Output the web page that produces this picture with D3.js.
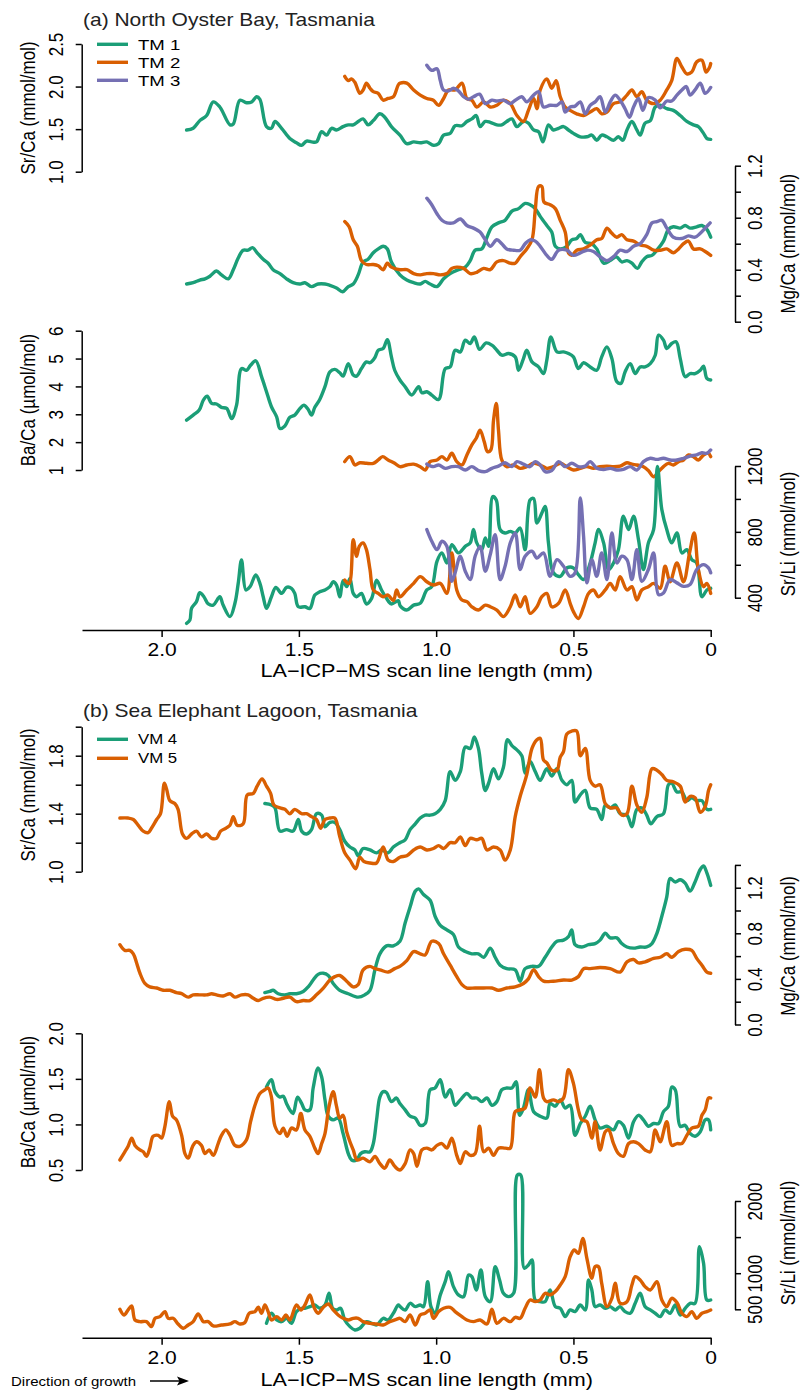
<!DOCTYPE html>
<html>
<head>
<meta charset="utf-8">
<script src="https://cdn.jsdelivr.net/npm/d3@7"></script>
<style>
  body { margin: 0; background: #fff; }
  text { font-family: "Liberation Sans", Arial, sans-serif; fill: #000; }
</style>
</head>
<body>
<div id="chart"></div>
<script>
// distances are scan line length in mm, values as on each axis

// ---- (a) North Oyster Bay ----
const tm1SrCa = [[1.909,1.49],[1.885,1.51],[1.861,1.60],[1.836,1.66],[1.812,1.82],[1.788,1.76],[1.751,1.55],[1.739,1.56],[1.715,1.84],[1.691,1.81],[1.672,1.82],[1.654,1.88],[1.642,1.85],[1.618,1.53],[1.600,1.51],[1.587,1.59],[1.563,1.51],[1.533,1.39],[1.509,1.34],[1.490,1.31],[1.472,1.36],[1.454,1.35],[1.436,1.35],[1.417,1.47],[1.399,1.43],[1.381,1.51],[1.363,1.49],[1.339,1.53],[1.320,1.55],[1.302,1.55],[1.284,1.59],[1.266,1.62],[1.248,1.55],[1.229,1.60],[1.205,1.68],[1.187,1.64],[1.163,1.53],[1.132,1.43],[1.107,1.33],[1.082,1.35],[1.058,1.34],[1.034,1.35],[1.010,1.31],[0.991,1.33],[0.973,1.43],[0.949,1.45],[0.931,1.54],[0.906,1.54],[0.888,1.59],[0.870,1.62],[0.854,1.66],[0.840,1.53],[0.821,1.59],[0.803,1.58],[0.779,1.55],[0.761,1.55],[0.743,1.59],[0.724,1.62],[0.706,1.53],[0.682,1.59],[0.664,1.57],[0.645,1.49],[0.627,1.47],[0.611,1.35],[0.591,1.55],[0.573,1.49],[0.554,1.51],[0.536,1.53],[0.518,1.49],[0.500,1.45],[0.475,1.41],[0.451,1.41],[0.433,1.43],[0.415,1.37],[0.397,1.43],[0.378,1.41],[0.354,1.37],[0.336,1.41],[0.320,1.37],[0.305,1.49],[0.287,1.59],[0.269,1.49],[0.257,1.43],[0.239,1.57],[0.220,1.60],[0.202,1.76],[0.184,1.78],[0.160,1.74],[0.136,1.72],[0.111,1.66],[0.087,1.59],[0.063,1.55],[0.045,1.53],[0.026,1.45],[0.014,1.39],[0,1.38]]
const tm2SrCa = [[1.333,2.12],[1.320,2.07],[1.308,2.09],[1.296,2.05],[1.278,1.92],[1.266,1.96],[1.254,2.04],[1.241,1.98],[1.229,1.94],[1.211,1.92],[1.193,1.84],[1.175,1.86],[1.156,1.88],[1.138,2.02],[1.131,2.04],[1.107,2.04],[1.082,1.96],[1.058,1.90],[1.034,1.86],[1.010,1.84],[0.991,1.78],[0.973,1.86],[0.955,1.96],[0.931,1.96],[0.906,2.04],[0.888,1.86],[0.870,1.84],[0.852,1.76],[0.827,1.82],[0.803,1.76],[0.779,1.78],[0.755,1.84],[0.730,1.80],[0.706,1.66],[0.682,1.59],[0.664,1.72],[0.645,1.86],[0.633,1.74],[0.621,1.96],[0.597,2.09],[0.579,1.98],[0.563,2.07],[0.548,1.88],[0.530,1.76],[0.512,1.72],[0.488,1.68],[0.463,1.66],[0.439,1.70],[0.415,1.74],[0.397,1.68],[0.378,1.70],[0.354,1.80],[0.330,1.82],[0.305,1.90],[0.287,1.96],[0.269,1.88],[0.251,1.94],[0.233,1.84],[0.208,1.80],[0.184,1.84],[0.160,1.96],[0.142,2.07],[0.123,2.33],[0.105,2.23],[0.087,2.15],[0.069,2.17],[0.051,2.29],[0.032,2.31],[0.017,2.17],[0.005,2.22],[0,2.27]]
const tm3SrCa = [[1.034,2.25],[1.016,2.19],[0.997,2.21],[0.985,2.07],[0.973,1.96],[0.955,1.95],[0.937,1.98],[0.919,1.95],[0.900,1.88],[0.882,1.85],[0.864,1.88],[0.842,1.91],[0.821,1.80],[0.797,1.84],[0.779,1.83],[0.755,1.84],[0.730,1.80],[0.712,1.84],[0.688,1.88],[0.670,1.82],[0.645,1.90],[0.627,1.94],[0.609,1.76],[0.585,1.78],[0.560,1.78],[0.542,1.82],[0.530,1.70],[0.512,1.76],[0.494,1.77],[0.475,1.82],[0.457,1.68],[0.439,1.78],[0.421,1.82],[0.403,1.88],[0.384,1.70],[0.366,1.82],[0.348,1.90],[0.330,1.84],[0.312,1.74],[0.296,1.64],[0.281,1.76],[0.263,1.86],[0.247,1.72],[0.227,1.87],[0.202,1.84],[0.184,1.75],[0.160,1.83],[0.142,1.83],[0.123,1.90],[0.105,1.96],[0.089,2.00],[0.075,1.90],[0.057,1.96],[0.038,2.04],[0.020,1.92],[0,1.99]]

const tm1MgCa = [[1.909,0.29],[1.885,0.30],[1.861,0.32],[1.842,0.33],[1.824,0.35],[1.800,0.39],[1.782,0.36],[1.757,0.33],[1.739,0.40],[1.721,0.49],[1.703,0.55],[1.685,0.55],[1.669,0.57],[1.652,0.53],[1.630,0.48],[1.612,0.45],[1.594,0.40],[1.569,0.37],[1.545,0.33],[1.521,0.30],[1.496,0.29],[1.478,0.30],[1.454,0.27],[1.430,0.29],[1.405,0.29],[1.387,0.28],[1.363,0.26],[1.341,0.23],[1.320,0.27],[1.302,0.29],[1.284,0.36],[1.266,0.46],[1.248,0.48],[1.229,0.53],[1.211,0.56],[1.193,0.58],[1.178,0.56],[1.163,0.46],[1.132,0.36],[1.107,0.32],[1.082,0.30],[1.058,0.29],[1.040,0.31],[1.022,0.29],[0.997,0.27],[0.973,0.33],[0.949,0.37],[0.919,0.40],[0.894,0.42],[0.876,0.47],[0.858,0.55],[0.834,0.56],[0.815,0.65],[0.797,0.73],[0.773,0.76],[0.749,0.78],[0.724,0.85],[0.700,0.87],[0.676,0.91],[0.658,0.90],[0.639,0.87],[0.621,0.81],[0.597,0.74],[0.579,0.69],[0.566,0.58],[0.548,0.56],[0.524,0.58],[0.506,0.63],[0.488,0.64],[0.475,0.67],[0.457,0.61],[0.433,0.60],[0.415,0.56],[0.390,0.45],[0.366,0.47],[0.344,0.50],[0.324,0.46],[0.305,0.47],[0.287,0.45],[0.267,0.41],[0.251,0.46],[0.233,0.50],[0.214,0.51],[0.196,0.55],[0.172,0.62],[0.154,0.71],[0.136,0.73],[0.111,0.72],[0.093,0.74],[0.075,0.72],[0.051,0.73],[0.032,0.74],[0.014,0.71],[0,0.65]]
const tm2MgCa = [[1.333,0.77],[1.317,0.73],[1.302,0.63],[1.287,0.58],[1.272,0.47],[1.254,0.44],[1.229,0.44],[1.211,0.43],[1.193,0.40],[1.178,0.45],[1.163,0.42],[1.132,0.40],[1.107,0.40],[1.082,0.37],[1.058,0.36],[1.034,0.37],[1.010,0.37],[0.985,0.36],[0.961,0.37],[0.943,0.41],[0.925,0.42],[0.900,0.41],[0.876,0.37],[0.852,0.38],[0.827,0.41],[0.803,0.40],[0.779,0.46],[0.755,0.47],[0.730,0.45],[0.712,0.45],[0.694,0.50],[0.670,0.56],[0.651,0.63],[0.639,0.86],[0.627,1.04],[0.615,1.04],[0.607,0.92],[0.585,0.90],[0.566,0.87],[0.548,0.78],[0.530,0.69],[0.518,0.53],[0.506,0.51],[0.488,0.55],[0.463,0.56],[0.439,0.59],[0.415,0.63],[0.397,0.64],[0.378,0.72],[0.360,0.68],[0.342,0.65],[0.324,0.67],[0.305,0.63],[0.281,0.62],[0.257,0.59],[0.233,0.58],[0.208,0.55],[0.184,0.55],[0.160,0.56],[0.136,0.53],[0.117,0.56],[0.099,0.60],[0.081,0.62],[0.063,0.56],[0.038,0.56],[0.020,0.54],[0,0.51]]
const tm3MgCa = [[1.034,0.95],[1.016,0.90],[0.997,0.83],[0.979,0.78],[0.961,0.76],[0.937,0.76],[0.912,0.79],[0.888,0.74],[0.864,0.72],[0.840,0.69],[0.821,0.63],[0.803,0.58],[0.779,0.63],[0.761,0.60],[0.743,0.56],[0.718,0.55],[0.694,0.55],[0.676,0.60],[0.658,0.63],[0.639,0.62],[0.621,0.58],[0.597,0.51],[0.579,0.48],[0.554,0.55],[0.524,0.55],[0.500,0.51],[0.475,0.53],[0.451,0.55],[0.427,0.54],[0.403,0.50],[0.378,0.47],[0.354,0.50],[0.330,0.55],[0.305,0.54],[0.281,0.58],[0.257,0.60],[0.233,0.67],[0.214,0.76],[0.196,0.77],[0.178,0.78],[0.160,0.72],[0.136,0.65],[0.105,0.64],[0.081,0.66],[0.057,0.65],[0.038,0.68],[0.020,0.72],[0.002,0.76]]

const tm1BaCa = [[1.909,2.79],[1.885,2.97],[1.863,3.15],[1.848,3.51],[1.834,3.65],[1.818,3.39],[1.800,3.37],[1.782,3.25],[1.763,3.21],[1.745,2.85],[1.727,3.33],[1.709,4.64],[1.691,4.58],[1.676,4.76],[1.657,4.92],[1.636,4.35],[1.618,3.81],[1.600,3.27],[1.581,2.91],[1.569,2.49],[1.551,2.58],[1.533,2.89],[1.515,2.97],[1.496,3.21],[1.482,3.33],[1.466,3.17],[1.454,2.97],[1.442,3.25],[1.424,3.53],[1.405,3.99],[1.387,4.52],[1.369,4.61],[1.351,4.49],[1.339,4.37],[1.320,4.82],[1.302,4.41],[1.290,4.37],[1.272,4.64],[1.254,4.88],[1.241,4.85],[1.223,5.04],[1.211,5.30],[1.193,5.36],[1.178,5.68],[1.163,5.06],[1.151,4.58],[1.132,4.23],[1.113,3.99],[1.089,3.69],[1.064,3.99],[1.052,3.77],[1.034,3.81],[1.016,3.69],[0.991,3.53],[0.967,4.64],[0.949,4.70],[0.931,5.30],[0.912,5.24],[0.894,5.66],[0.876,5.54],[0.861,5.78],[0.842,5.33],[0.818,5.56],[0.797,5.48],[0.779,5.30],[0.761,5.12],[0.736,5.18],[0.712,5.06],[0.700,4.58],[0.682,5.00],[0.670,5.30],[0.651,4.88],[0.627,4.70],[0.609,4.46],[0.597,4.94],[0.582,5.78],[0.560,5.24],[0.536,5.24],[0.518,5.18],[0.500,5.06],[0.482,4.64],[0.463,4.85],[0.439,4.70],[0.415,4.58],[0.397,5.06],[0.378,5.42],[0.360,5.00],[0.342,4.17],[0.327,4.11],[0.312,4.52],[0.293,4.82],[0.275,4.46],[0.257,4.70],[0.239,4.70],[0.220,4.82],[0.202,5.12],[0.190,5.84],[0.172,5.66],[0.160,5.36],[0.142,5.54],[0.126,5.60],[0.111,5.00],[0.093,4.35],[0.075,4.46],[0.057,4.46],[0.038,4.58],[0.026,4.73],[0.014,4.29],[0,4.23]]
const tm2BaCa = [[1.333,1.30],[1.314,1.48],[1.296,1.18],[1.278,1.26],[1.254,1.24],[1.229,1.24],[1.211,1.36],[1.195,1.48],[1.175,1.36],[1.151,1.24],[1.132,1.12],[1.107,1.18],[1.082,1.21],[1.058,1.12],[1.040,1.00],[1.022,1.30],[0.997,1.36],[0.979,1.48],[0.961,1.36],[0.943,1.60],[0.925,1.30],[0.906,1.18],[0.888,1.54],[0.870,1.90],[0.854,2.14],[0.840,2.43],[0.825,2.02],[0.813,1.66],[0.801,1.72],[0.791,2.79],[0.781,3.39],[0.773,2.43],[0.761,1.36],[0.743,1.12],[0.718,1.18],[0.694,1.06],[0.670,1.12],[0.645,1.24],[0.621,1.18],[0.597,1.06],[0.573,1.12],[0.548,1.24],[0.524,1.12],[0.500,1.00],[0.475,1.06],[0.451,1.12],[0.427,1.06],[0.403,1.12],[0.378,1.14],[0.354,1.12],[0.330,1.14],[0.305,1.26],[0.287,1.21],[0.269,1.18],[0.245,1.12],[0.227,0.98],[0.208,0.76],[0.190,0.94],[0.172,1.12],[0.154,1.24],[0.136,1.18],[0.117,1.30],[0.099,1.36],[0.081,1.54],[0.063,1.48],[0.045,1.36],[0.026,1.54],[0.008,1.60],[0,1.48]]
const tm3BaCa = [[1.034,1.21],[1.010,1.12],[0.991,1.18],[0.967,1.06],[0.943,1.12],[0.919,1.12],[0.894,1.00],[0.870,1.12],[0.846,0.98],[0.821,0.94],[0.797,1.06],[0.773,1.14],[0.749,1.26],[0.724,1.12],[0.706,1.30],[0.682,1.21],[0.658,1.12],[0.639,1.30],[0.621,1.18],[0.603,0.94],[0.579,0.98],[0.554,1.30],[0.530,1.12],[0.506,1.24],[0.482,1.12],[0.457,1.14],[0.439,1.30],[0.415,1.06],[0.390,1.02],[0.366,1.06],[0.342,1.00],[0.318,1.02],[0.293,1.12],[0.269,1.00],[0.245,1.30],[0.220,1.42],[0.196,1.38],[0.172,1.42],[0.148,1.36],[0.123,1.36],[0.099,1.42],[0.075,1.50],[0.051,1.54],[0.032,1.62],[0.014,1.60],[0,1.72]]

const tm1SrLi = [[1.909,244],[1.897,264],[1.891,335],[1.873,376],[1.861,430],[1.846,406],[1.830,362],[1.812,355],[1.788,406],[1.776,355],[1.751,285],[1.733,366],[1.721,487],[1.709,629],[1.693,447],[1.678,467],[1.657,538],[1.642,487],[1.630,406],[1.618,335],[1.600,406],[1.584,463],[1.563,426],[1.545,463],[1.527,457],[1.515,426],[1.502,345],[1.478,345],[1.460,335],[1.442,416],[1.424,436],[1.405,447],[1.387,467],[1.375,497],[1.363,477],[1.351,406],[1.339,503],[1.326,467],[1.314,517],[1.302,426],[1.290,406],[1.272,426],[1.254,362],[1.235,396],[1.217,507],[1.199,447],[1.181,396],[1.163,362],[1.138,382],[1.131,350],[1.107,325],[1.082,355],[1.058,366],[1.034,447],[1.016,467],[0.997,621],[0.979,672],[0.961,611],[0.943,722],[0.919,672],[0.894,712],[0.876,733],[0.864,814],[0.852,733],[0.834,692],[0.821,763],[0.809,712],[0.794,1014],[0.781,993],[0.767,814],[0.749,793],[0.730,803],[0.712,793],[0.694,823],[0.676,692],[0.658,993],[0.645,1003],[0.633,854],[0.615,915],[0.603,955],[0.591,733],[0.573,551],[0.548,530],[0.524,581],[0.500,581],[0.482,540],[0.463,510],[0.439,611],[0.421,733],[0.409,814],[0.390,733],[0.372,571],[0.354,611],[0.336,692],[0.318,895],[0.299,814],[0.281,895],[0.263,753],[0.245,571],[0.227,733],[0.208,814],[0.194,1198],[0.178,935],[0.160,814],[0.142,733],[0.123,793],[0.105,672],[0.087,692],[0.069,631],[0.051,611],[0.032,406],[0.014,447],[0,457]]
const tm2SrLi = [[1.333,507],[1.317,487],[1.302,753],[1.290,652],[1.280,712],[1.266,733],[1.254,692],[1.241,571],[1.229,447],[1.211,426],[1.193,406],[1.175,416],[1.156,382],[1.144,447],[1.132,406],[1.107,447],[1.082,487],[1.058,528],[1.034,497],[1.010,477],[0.985,487],[0.961,426],[0.943,672],[0.925,447],[0.906,386],[0.888,376],[0.870,345],[0.846,325],[0.821,355],[0.803,345],[0.779,325],[0.755,285],[0.730,345],[0.712,416],[0.694,345],[0.676,406],[0.658,305],[0.633,345],[0.615,406],[0.597,426],[0.579,345],[0.554,366],[0.530,447],[0.512,366],[0.500,315],[0.482,274],[0.463,345],[0.445,426],[0.427,447],[0.409,406],[0.384,447],[0.366,487],[0.348,447],[0.330,528],[0.305,447],[0.287,467],[0.269,386],[0.251,447],[0.227,467],[0.208,487],[0.184,457],[0.166,591],[0.148,497],[0.123,611],[0.099,497],[0.077,672],[0.060,793],[0.045,571],[0.026,467],[0.014,487],[0,426]]
const tm3SrLi = [[1.034,814],[1.016,743],[0.997,692],[0.979,743],[0.961,712],[0.943,500],[0.931,551],[0.912,652],[0.894,561],[0.876,510],[0.858,652],[0.840,712],[0.821,561],[0.803,662],[0.785,783],[0.767,510],[0.749,591],[0.730,733],[0.712,793],[0.694,571],[0.676,652],[0.651,682],[0.633,641],[0.609,672],[0.585,530],[0.560,631],[0.536,591],[0.512,530],[0.494,551],[0.475,1006],[0.463,773],[0.451,490],[0.433,631],[0.415,530],[0.397,672],[0.378,510],[0.360,793],[0.342,611],[0.324,652],[0.305,631],[0.287,510],[0.269,692],[0.251,500],[0.227,571],[0.208,672],[0.190,419],[0.172,429],[0.148,510],[0.123,490],[0.099,469],[0.075,480],[0.051,571],[0.026,601],[0.008,581],[0,551]]

// ---- (b) Sea Elephant Lagoon ----
const vm4SrCa = [[1.624,1.47],[1.600,1.46],[1.587,1.44],[1.569,1.28],[1.545,1.29],[1.521,1.28],[1.502,1.36],[1.490,1.28],[1.472,1.26],[1.454,1.29],[1.436,1.40],[1.417,1.39],[1.405,1.31],[1.387,1.34],[1.369,1.34],[1.351,1.29],[1.333,1.21],[1.314,1.17],[1.296,1.15],[1.284,1.11],[1.266,1.16],[1.241,1.15],[1.217,1.13],[1.199,1.15],[1.175,1.13],[1.156,1.17],[1.132,1.20],[1.113,1.22],[1.095,1.29],[1.076,1.33],[1.058,1.37],[1.040,1.39],[1.022,1.39],[1.004,1.40],[0.985,1.43],[0.967,1.49],[0.949,1.69],[0.931,1.63],[0.912,1.69],[0.894,1.86],[0.876,1.85],[0.861,1.93],[0.846,1.85],[0.834,1.68],[0.821,1.56],[0.809,1.61],[0.791,1.71],[0.773,1.64],[0.755,1.72],[0.740,1.91],[0.724,1.87],[0.706,1.84],[0.688,1.80],[0.676,1.68],[0.658,1.76],[0.639,1.69],[0.621,1.63],[0.597,1.71],[0.579,1.66],[0.560,1.71],[0.542,1.63],[0.524,1.60],[0.506,1.63],[0.494,1.48],[0.475,1.53],[0.457,1.56],[0.439,1.44],[0.415,1.43],[0.397,1.36],[0.384,1.46],[0.366,1.44],[0.348,1.46],[0.330,1.40],[0.305,1.39],[0.287,1.31],[0.269,1.43],[0.251,1.44],[0.233,1.39],[0.218,1.33],[0.196,1.38],[0.172,1.40],[0.154,1.60],[0.142,1.61],[0.123,1.55],[0.105,1.55],[0.087,1.49],[0.069,1.51],[0.051,1.49],[0.032,1.49],[0.014,1.43],[0,1.43]]
const vm5SrCa = [[2.152,1.37],[2.122,1.37],[2.103,1.36],[2.085,1.32],[2.067,1.28],[2.049,1.27],[2.037,1.30],[2.018,1.36],[2.004,1.40],[1.990,1.61],[1.982,1.57],[1.970,1.49],[1.952,1.47],[1.940,1.43],[1.924,1.26],[1.909,1.23],[1.891,1.26],[1.873,1.28],[1.855,1.24],[1.836,1.26],[1.818,1.23],[1.800,1.23],[1.785,1.28],[1.766,1.30],[1.751,1.32],[1.739,1.38],[1.725,1.32],[1.703,1.33],[1.688,1.53],[1.666,1.54],[1.652,1.59],[1.634,1.64],[1.618,1.59],[1.603,1.54],[1.591,1.46],[1.569,1.44],[1.551,1.43],[1.533,1.40],[1.515,1.43],[1.490,1.40],[1.472,1.40],[1.454,1.38],[1.436,1.36],[1.421,1.30],[1.405,1.36],[1.387,1.37],[1.369,1.37],[1.351,1.24],[1.333,1.13],[1.314,1.08],[1.293,1.02],[1.278,1.10],[1.263,1.07],[1.241,1.06],[1.217,1.06],[1.193,1.17],[1.175,1.08],[1.156,1.07],[1.132,1.10],[1.107,1.11],[1.082,1.15],[1.058,1.17],[1.034,1.15],[1.010,1.16],[0.991,1.18],[0.973,1.16],[0.949,1.20],[0.931,1.20],[0.912,1.24],[0.894,1.18],[0.876,1.23],[0.852,1.22],[0.834,1.23],[0.815,1.15],[0.791,1.17],[0.767,1.15],[0.749,1.08],[0.730,1.15],[0.712,1.38],[0.694,1.52],[0.670,1.67],[0.651,1.85],[0.633,1.91],[0.621,1.92],[0.609,1.77],[0.597,1.75],[0.579,1.70],[0.560,1.70],[0.548,1.79],[0.536,1.83],[0.524,1.95],[0.506,1.97],[0.488,1.97],[0.475,1.80],[0.457,1.85],[0.439,1.63],[0.421,1.59],[0.403,1.60],[0.384,1.47],[0.366,1.44],[0.342,1.44],[0.324,1.39],[0.305,1.40],[0.287,1.59],[0.269,1.46],[0.251,1.41],[0.233,1.51],[0.214,1.71],[0.196,1.70],[0.178,1.67],[0.160,1.63],[0.136,1.62],[0.111,1.59],[0.093,1.48],[0.075,1.52],[0.057,1.51],[0.038,1.41],[0.020,1.45],[0.008,1.56],[0,1.60]]

const vm4MgCa = [[1.624,0.28],[1.606,0.29],[1.594,0.30],[1.575,0.27],[1.551,0.26],[1.533,0.27],[1.509,0.27],[1.484,0.29],[1.466,0.33],[1.448,0.39],[1.430,0.44],[1.411,0.45],[1.393,0.43],[1.375,0.36],[1.351,0.30],[1.320,0.27],[1.284,0.24],[1.260,0.26],[1.241,0.30],[1.223,0.48],[1.205,0.62],[1.181,0.69],[1.156,0.69],[1.132,0.73],[1.113,0.89],[1.095,1.03],[1.076,1.17],[1.064,1.19],[1.046,1.14],[1.022,1.09],[1.004,0.95],[0.985,0.87],[0.961,0.83],[0.937,0.79],[0.919,0.68],[0.894,0.64],[0.870,0.62],[0.846,0.62],[0.827,0.59],[0.803,0.67],[0.785,0.59],[0.767,0.52],[0.743,0.49],[0.712,0.48],[0.694,0.38],[0.676,0.49],[0.651,0.51],[0.627,0.51],[0.603,0.59],[0.579,0.68],[0.560,0.73],[0.536,0.74],[0.518,0.77],[0.506,0.83],[0.494,0.70],[0.469,0.68],[0.445,0.70],[0.421,0.71],[0.403,0.74],[0.384,0.80],[0.366,0.76],[0.342,0.76],[0.324,0.71],[0.305,0.68],[0.281,0.67],[0.257,0.68],[0.233,0.68],[0.214,0.71],[0.196,0.80],[0.178,0.95],[0.160,1.12],[0.148,1.28],[0.129,1.25],[0.111,1.27],[0.093,1.24],[0.075,1.17],[0.057,1.25],[0.038,1.36],[0.026,1.39],[0.014,1.33],[0,1.22]]
const vm5MgCa = [[2.152,0.70],[2.134,0.65],[2.116,0.65],[2.103,0.62],[2.091,0.54],[2.079,0.45],[2.061,0.36],[2.043,0.33],[2.018,0.32],[1.994,0.30],[1.970,0.30],[1.946,0.28],[1.927,0.27],[1.903,0.24],[1.885,0.26],[1.861,0.26],[1.836,0.26],[1.818,0.27],[1.800,0.26],[1.776,0.25],[1.751,0.27],[1.733,0.24],[1.709,0.26],[1.685,0.26],[1.666,0.23],[1.648,0.21],[1.630,0.23],[1.606,0.24],[1.581,0.22],[1.557,0.23],[1.533,0.24],[1.509,0.20],[1.484,0.21],[1.460,0.21],[1.436,0.26],[1.411,0.32],[1.387,0.39],[1.369,0.42],[1.351,0.43],[1.326,0.38],[1.302,0.33],[1.284,0.35],[1.266,0.48],[1.241,0.51],[1.223,0.49],[1.205,0.48],[1.175,0.46],[1.151,0.49],[1.132,0.51],[1.107,0.56],[1.082,0.64],[1.058,0.62],[1.040,0.61],[1.016,0.73],[0.991,0.71],[0.973,0.62],[0.949,0.52],[0.925,0.42],[0.906,0.35],[0.888,0.32],[0.858,0.32],[0.827,0.32],[0.797,0.32],[0.773,0.30],[0.743,0.32],[0.712,0.33],[0.682,0.36],[0.664,0.40],[0.645,0.48],[0.627,0.42],[0.609,0.38],[0.573,0.38],[0.536,0.39],[0.506,0.39],[0.482,0.42],[0.463,0.49],[0.439,0.49],[0.403,0.50],[0.366,0.49],[0.330,0.46],[0.305,0.55],[0.281,0.57],[0.263,0.54],[0.239,0.55],[0.208,0.58],[0.184,0.59],[0.160,0.62],[0.142,0.59],[0.117,0.64],[0.093,0.66],[0.069,0.65],[0.051,0.58],[0.032,0.52],[0.014,0.46],[0,0.45]]

const vm4BaCa = [[1.618,1.41],[1.600,1.49],[1.587,1.36],[1.569,1.30],[1.557,1.31],[1.545,1.23],[1.533,1.16],[1.521,1.12],[1.505,1.30],[1.490,1.23],[1.478,1.16],[1.460,1.16],[1.448,1.40],[1.430,1.62],[1.417,1.52],[1.405,1.27],[1.393,1.09],[1.375,1.05],[1.357,1.07],[1.339,0.90],[1.320,0.68],[1.308,0.61],[1.290,0.61],[1.275,0.68],[1.260,0.70],[1.241,0.70],[1.229,0.79],[1.217,1.05],[1.205,1.30],[1.193,1.36],[1.181,1.35],[1.163,1.25],[1.145,1.29],[1.132,1.23],[1.113,1.16],[1.095,1.09],[1.076,1.07],[1.058,0.99],[1.040,1.01],[1.022,1.38],[1.004,1.40],[0.985,1.49],[0.967,1.30],[0.949,1.38],[0.931,1.21],[0.912,1.27],[0.888,1.34],[0.870,1.29],[0.852,1.29],[0.834,1.25],[0.815,1.29],[0.797,1.21],[0.779,1.25],[0.761,1.38],[0.743,1.40],[0.724,1.40],[0.709,1.47],[0.696,1.10],[0.682,1.18],[0.664,1.38],[0.645,1.14],[0.621,1.09],[0.597,1.07],[0.585,1.23],[0.566,1.20],[0.548,1.27],[0.530,1.18],[0.512,1.21],[0.494,0.88],[0.475,1.01],[0.457,1.09],[0.439,1.20],[0.421,1.05],[0.403,0.96],[0.378,0.98],[0.354,0.94],[0.336,1.03],[0.318,0.99],[0.299,0.85],[0.281,1.03],[0.263,1.10],[0.245,1.05],[0.227,0.98],[0.208,1.01],[0.190,1.01],[0.172,1.14],[0.154,1.20],[0.142,1.41],[0.129,1.38],[0.111,0.98],[0.093,0.99],[0.075,0.90],[0.057,0.87],[0.038,0.92],[0.020,1.05],[0.008,1.05],[0,0.94]]
const vm5BaCa = [[2.152,0.61],[2.134,0.70],[2.122,0.76],[2.109,0.85],[2.097,0.77],[2.079,0.72],[2.067,0.70],[2.055,0.65],[2.043,0.74],[2.031,0.87],[2.012,0.88],[2.000,0.85],[1.988,0.98],[1.972,1.25],[1.960,1.09],[1.946,1.05],[1.927,0.88],[1.915,0.68],[1.903,0.63],[1.887,0.76],[1.873,0.81],[1.855,0.77],[1.842,0.68],[1.827,0.72],[1.812,0.66],[1.794,0.79],[1.782,0.88],[1.766,0.94],[1.751,0.88],[1.733,0.77],[1.715,0.76],[1.691,0.83],[1.676,1.03],[1.660,1.21],[1.642,1.34],[1.624,1.38],[1.612,1.40],[1.600,1.30],[1.587,0.98],[1.569,0.90],[1.557,0.96],[1.543,0.87],[1.527,0.96],[1.509,0.94],[1.493,1.12],[1.478,0.94],[1.460,0.87],[1.442,0.74],[1.430,0.68],[1.417,0.79],[1.405,0.90],[1.390,1.20],[1.375,1.36],[1.363,1.20],[1.351,1.07],[1.339,1.10],[1.326,0.92],[1.314,0.81],[1.302,0.72],[1.288,0.61],[1.266,0.63],[1.241,0.59],[1.223,0.65],[1.205,0.57],[1.187,0.52],[1.169,0.61],[1.151,0.54],[1.132,0.50],[1.113,0.57],[1.095,0.72],[1.082,0.68],[1.070,0.54],[1.052,0.72],[1.034,0.74],[1.016,0.72],[0.997,0.77],[0.979,0.79],[0.961,0.74],[0.943,0.85],[0.925,0.66],[0.912,0.57],[0.894,0.70],[0.876,0.66],[0.858,0.68],[0.842,0.98],[0.827,0.70],[0.809,0.74],[0.791,0.66],[0.773,0.74],[0.749,0.74],[0.730,0.74],[0.712,1.14],[0.694,1.16],[0.676,1.18],[0.658,1.40],[0.639,1.30],[0.624,1.60],[0.609,1.29],[0.597,1.25],[0.573,1.27],[0.554,1.25],[0.536,1.29],[0.518,1.60],[0.500,1.45],[0.482,1.16],[0.469,1.05],[0.451,1.03],[0.433,0.85],[0.421,1.03],[0.403,0.72],[0.384,0.92],[0.372,0.94],[0.354,0.79],[0.336,0.68],[0.318,0.65],[0.299,0.79],[0.281,0.81],[0.263,0.79],[0.239,0.72],[0.220,0.70],[0.202,0.94],[0.184,0.81],[0.160,1.03],[0.142,0.77],[0.123,0.79],[0.105,0.79],[0.087,0.88],[0.069,0.96],[0.045,0.98],[0.032,1.10],[0.020,1.16],[0.008,1.29],[0,1.29]]

const vm4SrLi = [[1.618,306],[1.600,445],[1.581,352],[1.563,329],[1.545,375],[1.527,306],[1.509,468],[1.490,514],[1.478,514],[1.460,537],[1.442,560],[1.424,514],[1.405,560],[1.390,722],[1.377,514],[1.363,491],[1.348,514],[1.333,352],[1.314,260],[1.296,214],[1.278,237],[1.254,329],[1.235,306],[1.217,283],[1.193,375],[1.175,352],[1.156,445],[1.138,560],[1.131,537],[1.113,491],[1.095,583],[1.076,537],[1.058,560],[1.046,537],[1.031,883],[1.019,537],[1.004,445],[0.985,699],[0.967,883],[0.955,1022],[0.937,814],[0.919,699],[0.900,675],[0.882,975],[0.870,952],[0.854,768],[0.837,1045],[0.821,675],[0.803,606],[0.785,1091],[0.769,906],[0.755,722],[0.736,675],[0.718,722],[0.704,2360],[0.692,2360],[0.679,1068],[0.664,1114],[0.651,1183],[0.639,629],[0.621,606],[0.603,606],[0.585,768],[0.566,537],[0.548,514],[0.530,398],[0.512,491],[0.494,468],[0.475,560],[0.457,491],[0.445,906],[0.433,768],[0.421,537],[0.403,560],[0.384,514],[0.366,537],[0.348,491],[0.330,537],[0.312,468],[0.293,445],[0.275,583],[0.257,722],[0.239,537],[0.220,491],[0.202,445],[0.184,398],[0.166,491],[0.148,445],[0.129,560],[0.111,422],[0.093,514],[0.075,583],[0.057,583],[0.041,1368],[0.026,1137],[0.014,629],[0,629]]
const vm5SrLi = [[2.152,500],[2.137,422],[2.122,491],[2.109,546],[2.097,352],[2.079,329],[2.055,329],[2.037,260],[2.024,375],[2.006,398],[1.988,468],[1.976,375],[1.958,375],[1.940,297],[1.921,237],[1.903,283],[1.885,329],[1.867,435],[1.848,329],[1.830,329],[1.812,269],[1.782,283],[1.751,297],[1.733,329],[1.715,297],[1.697,315],[1.681,445],[1.660,468],[1.648,528],[1.636,445],[1.624,560],[1.612,468],[1.600,352],[1.581,398],[1.563,352],[1.547,422],[1.533,352],[1.509,560],[1.493,491],[1.478,560],[1.460,699],[1.445,528],[1.430,445],[1.411,528],[1.393,574],[1.375,491],[1.357,422],[1.339,375],[1.320,352],[1.302,375],[1.284,375],[1.266,329],[1.241,306],[1.217,297],[1.193,283],[1.169,329],[1.145,362],[1.132,375],[1.113,329],[1.095,422],[1.076,283],[1.058,422],[1.040,445],[1.022,491],[1.010,375],[0.991,468],[0.973,514],[0.949,528],[0.931,468],[0.906,398],[0.888,352],[0.864,329],[0.840,352],[0.815,297],[0.797,500],[0.779,306],[0.755,375],[0.730,329],[0.712,389],[0.694,375],[0.676,514],[0.658,629],[0.639,606],[0.621,629],[0.603,722],[0.585,699],[0.566,745],[0.548,837],[0.530,952],[0.512,1229],[0.497,1322],[0.482,1276],[0.466,1483],[0.451,1206],[0.433,929],[0.421,1091],[0.409,1091],[0.397,860],[0.378,537],[0.360,652],[0.348,860],[0.330,583],[0.305,606],[0.287,837],[0.275,952],[0.257,906],[0.239,814],[0.220,768],[0.196,883],[0.178,629],[0.160,537],[0.142,652],[0.123,592],[0.105,445],[0.087,398],[0.069,468],[0.051,375],[0.032,445],[0.014,468],[0,491]]

// axis ticks and labels
const xTicks = [2.0, 1.5, 1.0, 0.5, 0]
const xTickLabels = ['2.0', '1.5', '1.0', '0.5', '0']
const srCaATicks = [1.0, 1.5, 2.0, 2.5]
const srCaALabels = ['1.0', '1.5', '2.0', '2.5']
const mgCaATicks = [0, 0.2, 0.4, 0.6, 0.8, 1.0, 1.2]
const mgCaALabels = ['0.0', '', '0.4', '', '0.8', '', '1.2']
const baCaATicks = [1, 2, 3, 4, 5, 6]
const baCaALabels = ['1', '2', '3', '4', '5', '6']
const srLiATicks = [400, 600, 800, 1000, 1200]
const srLiALabels = ['400', '', '800', '', '1200']
const srCaBTicks = [1.0, 1.2, 1.4, 1.6, 1.8, 2.0]
const srCaBLabels = ['1.0', '', '1.4', '', '1.8', '']
const mgCaBTicks = [0, 0.2, 0.4, 0.6, 0.8, 1.0, 1.2, 1.4]
const mgCaBLabels = ['0.0', '', '0.4', '', '0.8', '', '1.2', '']
const baCaBTicks = [0.5, 1.0, 1.5, 2.0]
const baCaBLabels = ['0.5', '1.0', '1.5', '2.0']
const srLiBTicks = [500, 1000, 1500, 2000]
const srLiBLabels = ['500', '1000', '', '2000']

const legendA = ['TM 1', 'TM 2', 'TM 3']
const legendB = ['VM 4', 'VM 5']

const green = '#1b9e77'
const orange = '#d95f02'
const purple = '#7570b3'
const sx = 1.2 // the figure is stretched sideways

const svg = d3
  .select('#chart')
  .append('svg')
  .attr('width', 803)
  .attr('height', 1392)

const x = d3.scaleLinear().domain([2.29, 0]).range([82, 710.7])

function drawPlot(p) {
  const y = d3.scaleLinear().domain(p.domain).range(p.range)
  const left = p.side === 'left'
  const ax = left ? 81.7 : 735

  const axis = (left ? d3.axisLeft(y) : d3.axisRight(y))
    .tickValues(p.ticks)
    .tickSize(6)
    .tickSizeOuter(0)
    .tickFormat((d, i) => p.labels[i])

  const g = svg
    .append('g')
    .attr('transform', 'translate(' + ax + ',0)')
    .call(axis)
  g.attr('font-size', 17).attr('font-family', null)
  g.selectAll('path, line').attr('stroke-width', 1.5)
  g.selectAll('text')
    .attr('x', 0)
    .attr('dy', 0)
    .attr('text-anchor', 'middle')
    .attr('transform', 'translate(' + (left ? -18.4 : 26.7) + ',0) scale(' + sx + ',1) rotate(-90)')

  svg
    .append('text')
    .attr('transform', 'translate(' + (left ? 35 : 795) + ',' + p.titleY + ') scale(' + sx + ',1) rotate(-90)')
    .attr('text-anchor', 'middle')
    .attr('font-size', 17)
    .text(p.title)

  const line = d3
    .line()
    .x(d => x(d[0]))
    .y(d => y(d[1]))
    .curve(d3.curveCatmullRom.alpha(0.5))

  p.series.forEach(s => {
    svg
      .append('path')
      .datum(s.data)
      .attr('d', line)
      .attr('fill', 'none')
      .attr('stroke', s.color)
      .attr('stroke-width', 3.4)
      .attr('stroke-linejoin', 'round')
      .attr('stroke-linecap', 'round')
  })
}

function drawXAxis(yPos, titleY) {
  const g = svg
    .append('g')
    .attr('transform', 'translate(0,' + yPos + ')')
    .call(
      d3
        .axisBottom(x)
        .tickValues(xTicks)
        .tickSize(7)
        .tickSizeOuter(0)
        .tickFormat((d, i) => xTickLabels[i])
    )
  g.attr('font-size', 17.5).attr('font-family', null)
  g.selectAll('path, line').attr('stroke-width', 1.5)
  g.selectAll('text')
    .attr('y', 0)
    .attr('dy', 0)
    .attr('transform', 'translate(0,26) scale(' + sx + ',1)')

  svg
    .append('text')
    .attr('transform', 'translate(426.7,' + titleY + ') scale(' + sx + ',1)')
    .attr('text-anchor', 'middle')
    .attr('font-size', 18)
    .text('LA\u2212ICP\u2212MS scan line length (mm)')
}

function drawTitle(label, yPos) {
  svg
    .append('text')
    .attr('transform', 'translate(83,' + yPos + ') scale(' + sx + ',1)')
    .attr('font-size', 17.5)
    .style('fill', '#222')
    .text(label)
}

function drawLegend(names, colors, y0, step, size) {
  names.forEach((n, i) => {
    const yy = y0 + i * step
    svg
      .append('line')
      .attr('x1', 97)
      .attr('x2', 128)
      .attr('y1', yy)
      .attr('y2', yy)
      .attr('stroke', colors[i])
      .attr('stroke-width', 3.4)
    svg
      .append('text')
      .attr('transform', 'translate(138,' + (yy + size * 0.36) + ') scale(' + sx + ',1)')
      .attr('font-size', size)
      .text(n)
  })
}

// panel (a)
drawTitle('(a) North Oyster Bay, Tasmania', 26)
drawPlot({
  side: 'left', domain: [1.0, 2.5], range: [171.7, 44], ticks: srCaATicks, labels: srCaALabels,
  title: 'Sr/Ca (mmol/mol)', titleY: 108,
  series: [{ data: tm1SrCa, color: green }, { data: tm2SrCa, color: orange }, { data: tm3SrCa, color: purple }]
})
drawPlot({
  side: 'right', domain: [0, 1.2], range: [321.7, 165.7], ticks: mgCaATicks, labels: mgCaALabels,
  title: 'Mg/Ca (mmol/mol)', titleY: 243.7,
  series: [{ data: tm1MgCa, color: green }, { data: tm2MgCa, color: orange }, { data: tm3MgCa, color: purple }]
})
drawPlot({
  side: 'left', domain: [1, 6], range: [470, 330.7], ticks: baCaATicks, labels: baCaALabels,
  title: 'Ba/Ca (\u00b5mol/mol)', titleY: 400,
  series: [{ data: tm1BaCa, color: green }, { data: tm2BaCa, color: orange }, { data: tm3BaCa, color: purple }]
})
drawPlot({
  side: 'right', domain: [400, 1200], range: [597.7, 466], ticks: srLiATicks, labels: srLiALabels,
  title: 'Sr/Li (mmol/mol)', titleY: 534,
  series: [{ data: tm1SrLi, color: green }, { data: tm2SrLi, color: orange }, { data: tm3SrLi, color: purple }]
})
drawXAxis(630, 677)
drawLegend(legendA, [green, orange, purple], 44.3, 18, 15.5)

// panel (b)
drawTitle('(b) Sea Elephant Lagoon, Tasmania', 716.7)
drawPlot({
  side: 'left', domain: [1.0, 2.0], range: [871.7, 726.7], ticks: srCaBTicks, labels: srCaBLabels,
  title: 'Sr/Ca (mmol/mol)', titleY: 795,
  series: [{ data: vm4SrCa, color: green }, { data: vm5SrCa, color: orange }]
})
drawPlot({
  side: 'right', domain: [0, 1.4], range: [1024.5, 864.9], ticks: mgCaBTicks, labels: mgCaBLabels,
  title: 'Mg/Ca (mmol/mol)', titleY: 946,
  series: [{ data: vm4MgCa, color: green }, { data: vm5MgCa, color: orange }]
})
drawPlot({
  side: 'left', domain: [0.5, 2.0], range: [1170, 1033.3], ticks: baCaBTicks, labels: baCaBLabels,
  title: 'Ba/Ca (\u00b5mol/mol)', titleY: 1102,
  series: [{ data: vm4BaCa, color: green }, { data: vm5BaCa, color: orange }]
})
drawPlot({
  side: 'right', domain: [500, 2000], range: [1309.3, 1201], ticks: srLiBTicks, labels: srLiBLabels,
  title: 'Sr/Li (mmol/mol)', titleY: 1243,
  series: [{ data: vm4SrLi, color: green }, { data: vm5SrLi, color: orange }]
})
drawXAxis(1337.7, 1385.7)
drawLegend(legendB, [green, orange], 739.3, 19, 14)

// growth direction note
svg
  .append('text')
  .attr('transform', 'translate(11,1386) scale(' + sx + ',1)')
  .attr('font-size', 12.5)
  .text('Direction of growth')

svg
  .append('line')
  .attr('x1', 150)
  .attr('x2', 180)
  .attr('y1', 1381)
  .attr('y2', 1381)
  .attr('stroke', '#000')
  .attr('stroke-width', 1.5)

svg
  .append('path')
  .attr('d', 'M189,1381 L177,1376.5 L179.5,1381 L177,1385.5 Z')
  .attr('fill', '#000')
</script>
</body>
</html>
